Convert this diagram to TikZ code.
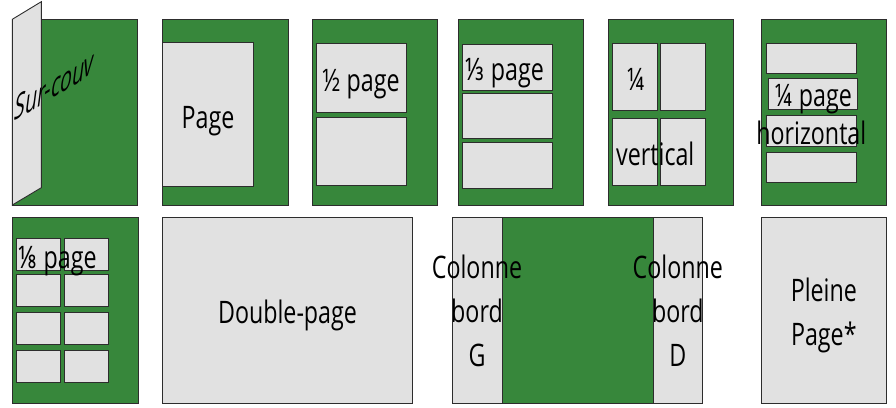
\documentclass[tikz,border=0pt]{standalone}
\usepackage{fontspec}
\usepackage{tikz}
\newfontfamily\adfont[FakeStretch=0.75]{Open Sans}
\newfontfamily\fracfont[FakeStretch=0.75]{Noto Sans}
\definecolor{adgreen}{RGB}{55,135,59}
\definecolor{adgray}{RGB}{225,225,225}
\definecolor{adedge}{RGB}{45,45,45}
\tikzset{
  sheet/.style={fill=adgreen, draw=adedge, line width=0.9pt},
  slot/.style={fill=adgray, draw=adedge, line width=0.9pt},
  lbl/.style={font=\adfont\fontsize{31}{44}\selectfont, inner sep=0pt, align=center}
}

\begin{document}
\begin{tikzpicture}[x=1pt,y=-1pt]
    \useasboundingbox (0,0) rectangle (896,407);

    % Sur-couv
    \draw[sheet] (12.3,19.3) rectangle (137.7,205);
    \draw[slot] (12.3,19.3) -- (41.3,1.7) -- (41.3,187.7) -- (12.3,205) -- cycle;
    \node[lbl, anchor=base west, cm={0.83,0.5,0.15,1.15,(0,0)}] (surcouv) at (13.5,121.7) {Sur-couv};

    % Page
    \draw[sheet] (162.7,19.3) rectangle (288.3,205);
    \draw[slot] (162.7,42.7) rectangle (253.3,186.7);
    \node[lbl, anchor=base] (page) at (208,128.3) {Page};

    % 1/2 page
    \draw[sheet] (312.3,19.3) rectangle (437.7,205);
    \draw[slot] (316.3,43.7) rectangle (406,112);
    \draw[slot] (316.3,117.7) rectangle (406.3,185.3);
    \node[lbl, anchor=base] (demi) at (361,91.7) {½ page};

    % 1/3 page
    \draw[sheet] (458.3,19.3) rectangle (583.7,205);
    \foreach \y in {44.7,93.3,142.7}
        \draw[slot] (462.3,\y) rectangle ++(90.4,45.5);
    \node[lbl, anchor=base] (tiers) at (504.7,80) {{\fracfont ⅓} page};

    % 1/4 vertical
    \draw[sheet] (608.3,19.3) rectangle (733.7,205);
    \foreach \x in {612.3,660}
        \foreach \y in {43,118.3}
            \draw[slot] (\x,\y) rectangle ++(45.2,67.5);
    \node[lbl, anchor=base] (quartv) at (636,90) {¼};
    \node[lbl, anchor=base] (vertical) at (655.3,165) {vertical};

    % 1/4 horizontal
    \draw[sheet] (761,19.3) rectangle (886.7,205);
    \draw[slot] (766.3,43) rectangle (856.3,73);
    \draw[slot] (768.3,78.7) rectangle (857.7,109);
    \draw[slot] (766.3,115.7) rectangle (856.3,146);
    \draw[slot] (766.3,152.3) rectangle (856.3,182.3);
    \node[lbl, anchor=base] (quarth) at (813.3,106.7) {¼ page};
    \node[lbl, anchor=base] (horizontal) at (811.3,144) {horizontal};

    % 1/8 page
    \draw[sheet] (12.7,217.7) rectangle (138,403.7);
    \foreach \x in {16.3,64.3}
        \foreach \y in {238.3,274.3,312.3,350}
            \draw[slot] (\x,\y) rectangle ++(44.4,32);
    \node[lbl, anchor=base] (huitieme) at (57.5,268.3) {{\fracfont ⅛} page};

    % Double-page
    \draw[slot] (162.7,217.3) rectangle (412.7,403.3);
    \node[lbl, anchor=base] (double) at (287.5,323.3) {Double-page};

    % Colonnes bord
    \draw[sheet] (452.3,217.3) rectangle (702.3,403.3);
    \draw[slot] (452.3,217.3) rectangle (502,403.3);
    \draw[slot] (653.3,217.3) rectangle (702.3,403.3);
    \node[lbl] (colg) at (477,310.7) {Colonne\\bord\\G};
    \node[lbl] (cold) at (677.8,310.7) {Colonne\\bord\\D};

    % Pleine page
    \draw[slot] (761,217.7) rectangle (886.7,403.3);
    \node[lbl] (pleine) at (823.8,315) {Pleine\\Page*};
\end{tikzpicture}
\end{document}
